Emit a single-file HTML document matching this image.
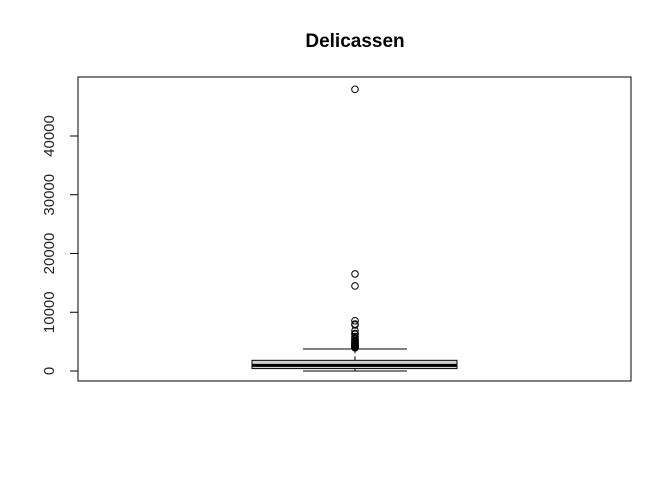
<!DOCTYPE html>
<html><head><meta charset="utf-8"><style>
body{margin:0;background:#fff;}
svg{display:block;font-family:"Liberation Sans",Arial,sans-serif;}
</style></head><body>
<svg id="c" width="672" height="480" viewBox="0 0 672 480">
<text x="355" y="47" text-anchor="middle" font-weight="bold" font-size="19">Delicassen</text>
<rect x="78" y="77" width="553" height="304" fill="none" stroke="#000"/>
<g id="yaxis"></g>
<g id="marks"></g>
</svg>
<script>
const ticks=[0,10000,20000,30000,40000];
const stats=[3,408,966,1820,3750]; // min, q1, median, q3, upper whisker
const outliers=[47943,16523,14472,8550,8000,7844,6854,6372,6250,5864,5609,5502,5185,5121,4948,4829,4736,4627,4545,4478,4334,4324,4196,4180,4099,4044,3976,3962];
const NS="http://www.w3.org/2000/svg";
function y(v){return 371-v*(235/40000);}
function mk(t,a,p){const e=document.createElementNS(NS,t);for(const k in a)e.setAttribute(k,a[k]);p.appendChild(e);return e;}
const ya=document.getElementById('yaxis');
mk('line',{x1:78,x2:78,y1:y(ticks[0]),y2:y(ticks[ticks.length-1]),stroke:'#000'},ya);
ticks.forEach(t=>{
  const l=mk('line',{x1:70,x2:78,y1:y(t),y2:y(t),stroke:'#000'},ya);
  
  
  const tx=mk('text',{x:0,y:0,'font-size':15,'text-anchor':'middle',transform:`translate(54,${y(t)}) rotate(-90)`,fill:'#222'},ya);
  tx.textContent=t;
  
  
});
const g=document.getElementById('marks');
const cx=355,bl=252,br=457,wl=303,wr=407;
const w1=mk('line',{x1:cx,x2:cx,y1:y(stats[0]),y2:y(stats[1]),stroke:'#000','stroke-dasharray':'4,3'},g);


const w2=mk('line',{x1:cx,x2:cx,y1:y(stats[3]),y2:y(stats[4]),stroke:'#000','stroke-dasharray':'4,3'},g);


[stats[0],stats[4]].forEach(v=>{
  const c=mk('line',{x1:wl,x2:wr,y1:y(v),y2:y(v),stroke:'#000'},g);
  
  
});
const b=mk('rect',{x:bl,y:y(stats[3]),width:br-bl,height:y(stats[1])-y(stats[3]),fill:'#d3d3d3',stroke:'#000'},g);


const m=mk('line',{x1:bl,x2:br,y1:y(stats[2]),y2:y(stats[2]),stroke:'#000','stroke-width':3},g);


outliers.forEach(v=>{
  const c=mk('circle',{cx:cx,cy:y(v),r:3.3,fill:'none',stroke:'#000'},g);
  
  
});
</script>
</body></html>
